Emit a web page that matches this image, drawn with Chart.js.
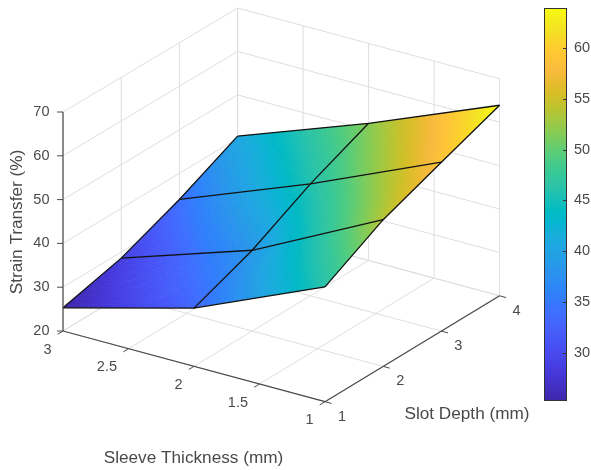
<!DOCTYPE html>
<html><head><meta charset="utf-8">
<style>html,body{margin:0;padding:0;background:#fff}canvas{display:block}</style>
<script src="https://cdn.jsdelivr.net/npm/chart.js@4"></script>
</head><body><canvas id="c" width="591" height="470"></canvas>
<script>
// ---- data ----
const sleeveThickness = [3, 2, 1];
const slotDepth = [1, 2, 3, 4];
const strainAtSleeve3 = [25.3, 28.6, 34.0, 40.5];
const strainAtSleeve2 = [33.3, 38.5, 45.7, 51.6];
const strainAtSleeve1 = [46.2, 53.6, 58.8, 63.9];
const strainTransfer = [strainAtSleeve3, strainAtSleeve2, strainAtSleeve1];
const sleeveTicks = [3, 2.5, 2, 1.5, 1];
const sleeveTickLabels = ['3', '2.5', '2', '1.5', '1'];
const depthTicks = [1, 2, 3, 4];
const strainTicks = [20, 30, 40, 50, 60, 70];
const colorbarTicks = [30, 35, 40, 45, 50, 55, 60];
const colorLimits = [25.3, 63.9];
const parula = [
[.2422,.1504,.6603],[.2578,.1818,.7511],[.2706,.2147,.8364],[.2783,.2559,.8991],[.2813,.3006,.9414],[.2795,.3447,.9717],
[.2699,.3892,.9906],[.2440,.4358,.9988],[.1963,.4847,.9892],[.1786,.5289,.9682],[.1687,.5703,.9359],[.1460,.6091,.9079],
[.1248,.6459,.8883],[.0952,.6798,.8598],[.0297,.7082,.8163],[.0067,.7312,.7660],[.0964,.7500,.7120],[.1717,.7670,.6554],
[.2161,.7843,.5923],[.2906,.7973,.5188],[.3909,.8029,.4354],[.5044,.7993,.3480],[.6174,.7876,.2612],[.7242,.7698,.1910],
[.8203,.7498,.1535],[.9035,.7330,.1774],[.9728,.7298,.2394],[.9970,.7659,.2199],[.9892,.8086,.1811],[.9626,.8705,.1476],
[.9580,.9220,.1170],[.9763,.9831,.0538]];

// ---- view of the 3D box: nearly orthographic, heights shrink slightly with depth ----
const view = {ox: 63, oy: 331, sx: -131, sy: -35.35, dx: 58.2, dy: -35.3, zy: -4.38, depthShrink: 0.003, x0: 3, y0: 1, z0: 20};
function project(s, d, z) {
  const zScale = view.zy * (1 - view.depthShrink * (d - view.y0));
  return {
    x: view.ox + (s - view.x0) * view.sx + (d - view.y0) * view.dx,
    y: view.oy + (s - view.x0) * view.sy + (d - view.y0) * view.dy + (z - view.z0) * zScale
  };
}
const GRID = '#dedede', AXIS = '#4a4a4a', TEXT = '#4a4a4a', FONT = '"Liberation Sans", Arial, sans-serif';
const datasets = [];
function seg(label, pts, color, width) {
  datasets.push({label, data: pts, showLine: true, pointRadius: 0, borderColor: color, borderWidth: width, clip: false, tension: 0, fill: false});
}
const sMin = 1, sMax = 3, dMin = 1, dMax = 4, zMin = 20, zMax = 70;
// back walls and floor grid
strainTicks.forEach(z => {
  seg('grid', [project(sMax, dMin, z), project(sMax, dMax, z), project(sMin, dMax, z)], GRID, 1);
});
depthTicks.forEach(d => {
  seg('grid', [project(sMin, d, zMin), project(sMax, d, zMin), project(sMax, d, zMax)], GRID, 1);
});
sleeveTicks.forEach(s => {
  seg('grid', [project(s, dMin, zMin), project(s, dMax, zMin), project(s, dMax, zMax)], GRID, 1);
});
// surface edges (the fill is painted just before the first of these)
const surfaceStart = datasets.length;
strainTransfer.forEach((row, i) => {
  seg('surface', row.map((z, j) => project(sleeveThickness[i], slotDepth[j], z)), '#111', 1.3);
});
slotDepth.forEach((d, j) => {
  seg('surface', sleeveThickness.map((s, i) => project(s, d, strainTransfer[i][j])), '#111', 1.3);
});
// box axes
seg('axis', [project(sMax, dMin, zMin), project(sMax, dMin, zMax)], AXIS, 1.2);
seg('axis', [project(sMax, dMin, zMin), project(sMin, dMin, zMin)], AXIS, 1.2);
seg('axis', [project(sMin, dMin, zMin), project(sMin, dMax, zMin)], AXIS, 1.2);
// ticks: each runs a short way along a box direction
sleeveTicks.forEach(s => seg('tick', [project(s, dMin, zMin), project(s, dMin - 0.09, zMin)], AXIS, 1));
depthTicks.forEach(d => seg('tick', [project(sMin, d, zMin), project(sMin - 0.05, d, zMin)], AXIS, 1));
strainTicks.forEach(z => {
  const p = project(sMax, dMin, z);
  seg('tick', [p, {x: p.x - 6, y: p.y}], AXIS, 1);
});
datasets.forEach((d, i) => d.order = datasets.length - i);

function colorOf(v) {
  let t = (v - colorLimits[0]) / (colorLimits[1] - colorLimits[0]);
  t = Math.max(0, Math.min(1, t)) * (parula.length - 1);
  const i = Math.min(parula.length - 2, Math.floor(t)), f = t - i;
  const c = parula[i].map((a, k) => Math.round(255 * (a + (parula[i + 1][k] - a) * f)));
  return `rgb(${c[0]},${c[1]},${c[2]})`;
}
const N = 28;
function paintSurface(chart) {
  const ctx = chart.ctx, X = chart.scales.x, Y = chart.scales.y;
  const px = (s, d, z) => { const p = project(s, d, z); return [X.getPixelForValue(p.x), Y.getPixelForValue(p.y)]; };
  ctx.save();
  ctx.lineWidth = 0.8;
  for (let i = 0; i < sleeveThickness.length - 1; i++) for (let j = 0; j < slotDepth.length - 1; j++) {
    const s0 = sleeveThickness[i], s1 = sleeveThickness[i + 1], d0 = slotDepth[j], d1 = slotDepth[j + 1];
    const a = strainTransfer[i][j], b = strainTransfer[i][j + 1], c = strainTransfer[i + 1][j], e = strainTransfer[i + 1][j + 1];
    const zAt = (u, v) => a * (1 - u) * (1 - v) + b * (1 - u) * v + c * u * (1 - v) + e * u * v;
    const P = (u, v) => px(s0 + (s1 - s0) * u, d0 + (d1 - d0) * v, zAt(u, v));
    ctx.save();
    ctx.beginPath();
    [[0, 0], [0, 1], [1, 1], [1, 0]].forEach(([u, v], k) => { const q = P(u, v); k ? ctx.lineTo(q[0], q[1]) : ctx.moveTo(q[0], q[1]); });
    ctx.closePath(); ctx.clip();
    for (let m = 0; m < N; m++) for (let n = 0; n < N; n++) {
      const u = m / N, v = n / N, w = 1 / N;
      const col = colorOf(zAt(u + w / 2, v + w / 2));
      ctx.fillStyle = col; ctx.strokeStyle = col;
      ctx.beginPath();
      [[u, v], [u, v + w], [u + w, v + w], [u + w, v]].forEach(([p, q], k) => { const r = P(p, q); k ? ctx.lineTo(r[0], r[1]) : ctx.moveTo(r[0], r[1]); });
      ctx.closePath(); ctx.fill(); ctx.stroke();
    }
    ctx.restore();
  }
  ctx.restore();
}
const barWidth = 23;
const box3d = {
  id: 'box3d',
  beforeDatasetDraw(chart, args) {
    if (args.index === surfaceStart) paintSurface(chart);
  },
  afterDraw(chart) {
    const ctx = chart.ctx, X = chart.scales.x, Y = chart.scales.y, cb = chart.scales.cb;
    const at = p => [X.getPixelForValue(p.x), Y.getPixelForValue(p.y)];
    ctx.save();
    ctx.fillStyle = TEXT; ctx.font = '14.5px ' + FONT; ctx.textBaseline = 'middle';
    ctx.textAlign = 'right';
    sleeveTicks.forEach((s, i) => { const q = at(project(s, dMin, zMin)); ctx.fillText(sleeveTickLabels[i], q[0] - 11.5, q[1] + 18.5); });
    strainTicks.forEach(z => { const q = at(project(sMax, dMin, z)); ctx.fillText(String(z), 49.5, q[1]); });
    ctx.textAlign = 'center';
    depthTicks.forEach(d => { const q = at(project(sMin, d, zMin)); ctx.fillText(String(d), q[0] + 17, q[1] + 15); });
    ctx.font = '17.2px ' + FONT;
    ctx.fillText('Sleeve Thickness (mm)', 193.5, 458);
    ctx.fillText('Slot Depth (mm)', 467, 414);
    ctx.translate(17.5, 222); ctx.rotate(-Math.PI / 2);
    ctx.fillText('Strain Transfer (%)', 0, 0);
    ctx.restore();
    // colorbar
    const r = chart.chartArea.right, l = r - barWidth, top = cb.top, bot = cb.bottom;
    const g = ctx.createLinearGradient(0, cb.getPixelForValue(colorLimits[0]), 0, cb.getPixelForValue(colorLimits[1]));
    for (let i = 0; i <= 64; i++) {
      const t = i / 64;
      g.addColorStop(t, colorOf(colorLimits[0] + t * (colorLimits[1] - colorLimits[0])));
    }
    ctx.save();
    ctx.fillStyle = g; ctx.fillRect(l, top, barWidth, bot - top);
    ctx.strokeStyle = '#333'; ctx.lineWidth = 1;
    ctx.strokeRect(l + .5, top + .5, barWidth - 1, bot - top - 1);
    ctx.beginPath();
    colorbarTicks.forEach(v => {
      const y = Math.round(cb.getPixelForValue(v)) + .5;
      ctx.moveTo(r - 4, y); ctx.lineTo(r, y);
    });
    ctx.stroke();
    ctx.restore();
  }
};
new Chart(document.getElementById('c'), {
  type: 'scatter',
  data: {datasets},
  plugins: [box3d],
  options: {
    responsive: false, animation: false, devicePixelRatio: 1,
    layout: {padding: {top: 8, bottom: 69, left: 0, right: 0}},
    plugins: {legend: {display: false}, tooltip: {enabled: false}, title: {display: false}},
    scales: {
      x: {type: 'linear', display: false, min: 0, max: 567},
      y: {type: 'linear', display: false, min: 8, max: 401, reverse: true},
      cb: {
        type: 'linear', axis: 'y', position: 'right', min: colorLimits[0], max: colorLimits[1],
        grid: {display: false, drawTicks: false}, border: {display: false},
        ticks: {padding: 7, color: TEXT, font: {family: FONT, size: 14.5}, align: 'center', crossAlign: 'near'},
        afterBuildTicks(s) { s.ticks = colorbarTicks.map(value => ({value})); },
        afterFit(s) { s.width = 24; s.paddingTop = 0; s.paddingBottom = 0; }
      }
    }
  }
});
</script></body></html>
